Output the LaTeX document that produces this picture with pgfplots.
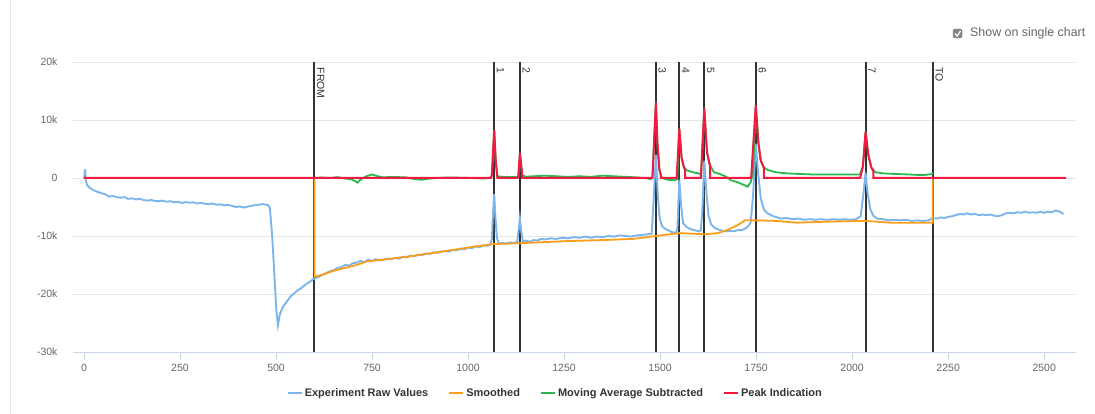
\documentclass[border=0pt]{standalone}
\usepackage{pgfplots}
\pgfplotsset{compat=1.18}
\usepackage{fontspec}
\setmainfont{Liberation Sans}
\definecolor{rawc}{HTML}{7CB5EC}
\definecolor{smoc}{HTML}{FA9E1B}
\definecolor{mavc}{HTML}{27B852}
\definecolor{peakc}{HTML}{F21B3F}
\definecolor{gridc}{HTML}{E6E6E6}
\definecolor{axc}{HTML}{CCD6EB}
\definecolor{labc}{HTML}{666666}
\definecolor{vlc}{HTML}{333333}
\begin{document}
\begin{tikzpicture}[x=1pt,y=1pt]
\useasboundingbox (0,0) rectangle (1095,414);
\draw[color=gridc, line width=0.8pt] (10,0) -- (10,414);
% checkbox
\filldraw[fill=labc!80, draw=labc!80, rounded corners=1.5pt] (953,376) rectangle (962,385);
\draw[white, line width=1.2pt] (955,380.5) -- (957.2,378) -- (960.5,383);
\node[anchor=west, font=\fontsize{12.4}{14}\selectfont, text=labc, inner sep=0pt] at (970,381) {Show on single chart};
\begin{axis}[
  at={(73pt,62pt)}, anchor=south west,
  scale only axis, width=1002.7pt, height=290pt,
  xmin=-28.6, xmax=2582, ymin=-30000, ymax=20000,
  scaled y ticks=false, scaled x ticks=false,
  axis x line*=bottom, axis y line*=left,
  x axis line style={color=axc, line width=0.8pt, -},
  y axis line style={draw=none},
  ytick={-30000,-20000,-10000,0,10000,20000},
  yticklabels={-30k,-20k,-10k,0,10k,20k},
  xtick={0,250,...,2500},
  xticklabels={0,250,500,750,1000,1250,1500,1750,2000,2250,2500},
  /pgf/number format/assume math mode=true,
  ymajorgrids, grid style={color=gridc, line width=0.8pt},
  tick align=outside, major tick length=8pt,
  xtick style={color=axc, line width=0.8pt},
  ytick style={draw=none},
  ticklabel style={font=\fontsize{10.5}{12}\selectfont, text=labc},
  xticklabel style={yshift=-1pt},
  yticklabel style={xshift=-4pt},
  clip=false,
  legend style={at={(0.481,-0.1414)}, anchor=center, draw=none, fill=none,
    font=\fontsize{11}{13}\bfseries\selectfont, text=vlc,
    /tikz/every even column/.append style={column sep=18pt}},
  legend columns=4,
  legend image code/.code={\draw[line width=2pt] (0pt,0pt) -- (14pt,0pt);},
]
% vertical plot lines
\foreach \v in {600,1068,1135,1489,1550,1615,1749,2035,2210} {
  \edef\tmp{\noexpand\addplot[forget plot, vlc, line width=1.9pt] coordinates {(\v,-30000) (\v,20000)};}
  \tmp
}
\addplot[rawc, line width=1.9pt] coordinates {
(0,0) (3,1500) (5,-500) (8,-1200) (15,-1700) (25,-2100) (35,-2400) (45,-2600) (55,-2800) (65,-3200) (75,-3100) (85,-3300) (95,-3400) (105,-3300) (115,-3600) (125,-3500) (135,-3700) (145,-3600) (155,-3800) (165,-3900) (175,-3800) (185,-3950) (195,-4000) (205,-3900) (215,-4100) (225,-4000) (235,-4200) (245,-4100) (255,-4300) (265,-4150) (275,-4250) (285,-4200) (295,-4400) (305,-4300) (315,-4450) (325,-4500) (335,-4400) (345,-4600) (355,-4550) (365,-4700) (375,-4650) (385,-4800) (395,-5000) (405,-4900) (415,-5100) (425,-4950) (435,-4800) (445,-4700) (455,-4600) (465,-4500) (475,-4600) (480,-4700) (484,-5200) (490,-10000) (496,-17000) (501,-23000) (505,-25400) (510,-23500) (518,-22200) (528,-21300) (540,-20300) (552,-19600) (565,-19000) (578,-18300) (590,-17800) (600,-17300)
(610,-17100) (620,-16700) (630,-16400) (640,-16100) (650,-15900) (660,-15500) (670,-15400) (680,-15000) (690,-15100) (700,-14700) (710,-14600) (720,-14300) (730,-14500) (740,-14100) (750,-14300) (760,-14000) (770,-14200) (780,-14100) (790,-13900) (800,-14000) (810,-13800) (820,-13900) (830,-13600) (840,-13700) (850,-13400) (860,-13500) (870,-13200) (880,-13300) (890,-13000) (900,-13100) (910,-12800) (920,-12900) (930,-12700) (940,-12600) (950,-12700) (960,-12400) (970,-12500) (980,-12200) (990,-12300) (1000,-12000) (1010,-12100) (1020,-11800) (1030,-11900) (1040,-11600) (1050,-11700) (1058,-11500)
(1062,-10500) (1065,-6000) (1068,-2800) (1071,-6500) (1075,-10300) (1080,-11300) (1090,-11200) (1100,-11300) (1110,-11100) (1120,-11200) (1128,-11000) (1132,-8800) (1135,-6900) (1139,-9500) (1143,-10900) (1150,-10800) (1160,-11000) (1170,-10700) (1180,-10800) (1190,-10500) (1200,-10600) (1215,-10400) (1230,-10500) (1245,-10300) (1260,-10400) (1275,-10200) (1290,-10300) (1305,-10100) (1320,-10300) (1335,-10100) (1350,-10200) (1365,-10000) (1380,-10100) (1395,-9900) (1410,-10000) (1425,-10100) (1440,-9900) (1455,-9800) (1470,-9700) (1478,-9600)
(1483,-4000) (1489,4000) (1494,-3000) (1499,-7000) (1505,-8300) (1512,-8700) (1520,-9000) (1530,-9300) (1540,-9500) (1545,-8800) (1550,-300) (1555,-5000) (1560,-7800) (1568,-8400) (1578,-8800) (1590,-9000) (1600,-9200) (1606,-9000) (1610,-5500) (1615,3000) (1620,-2000) (1626,-6500) (1633,-8000) (1642,-8600) (1652,-8900) (1662,-9100) (1672,-9200) (1682,-9100) (1692,-9200) (1702,-9000) (1712,-9000) (1722,-8700) (1730,-8300) (1736,-7600) (1742,-3000) (1749,5900) (1755,1000) (1762,-3500) (1770,-5400) (1778,-6000) (1786,-6300) (1795,-6600) (1805,-6800) (1815,-7000) (1830,-6900) (1845,-7100) (1860,-7000) (1875,-7200) (1890,-7100) (1905,-7200) (1920,-7100) (1935,-7200) (1950,-7100) (1965,-7200) (1980,-7100) (1995,-7200) (2010,-7100) (2022,-6600) (2029,-3000) (2035,900) (2040,-2500) (2047,-5300) (2055,-6500) (2065,-7000) (2080,-7100) (2095,-7300) (2110,-7200) (2125,-7300) (2140,-7200) (2155,-7400) (2170,-7300) (2185,-7400) (2200,-7300) (2210,-6900)
(2220,-7000) (2230,-6800) (2240,-6900) (2250,-6700) (2260,-6600) (2270,-6400) (2280,-6200) (2290,-6300) (2300,-6100) (2310,-6300) (2320,-6200) (2330,-6400) (2340,-6300) (2350,-6400) (2360,-6300) (2370,-6500) (2380,-6600) (2390,-6400) (2400,-6100) (2410,-6000) (2420,-6100) (2430,-5900) (2440,-6000) (2450,-5800) (2460,-6000) (2470,-5900) (2480,-6000) (2490,-5800) (2500,-6000) (2510,-5800) (2520,-5900) (2530,-5600) (2540,-5800) (2550,-6200)
};
\addlegendentry{Experiment Raw Values}
\addplot[smoc, line width=1.8pt] coordinates {
(0,0) (600,0) (600,-17000) (620,-16700) (650,-16000) (680,-15500) (710,-15000) (735,-14400) (800,-13900) (850,-13500) (900,-13000) (950,-12500) (1000,-12000) (1065,-11400) (1150,-11200) (1250,-10900) (1350,-10700) (1430,-10500) (1489,-10000) (1550,-9500) (1617,-9700) (1650,-9500) (1674,-9000) (1700,-8200) (1721,-7300) (1750,-7300) (1800,-7400) (1856,-7700) (1950,-7500) (2035,-7400) (2099,-7700) (2210,-7700) (2210,0) (2550,0)
};
\addlegendentry{Smoothed}
\addplot[mavc, line width=1.8pt] coordinates {
(600,0) (620,100) (640,0) (660,150) (680,-100) (695,-200) (705,-500) (712,-800) (720,-300) (735,300) (750,600) (765,300) (780,100) (800,200) (820,150) (840,100) (860,-200) (880,-300) (900,-100) (920,0) (950,100) (980,50) (1010,0) (1040,-100) (1058,0) (1062,500) (1068,8300) (1072,3000) (1076,300) (1090,200) (1110,150) (1128,200) (1131,300) (1135,4300) (1141,500) (1150,200) (1170,300) (1200,400) (1230,300) (1260,200) (1290,300) (1320,200) (1350,400) (1380,300) (1410,200) (1440,100) (1460,0) (1475,-200) (1480,0) (1489,13000) (1493,6000) (1498,1500) (1505,0) (1520,-300) (1540,-400) (1545,-100) (1550,8500) (1556,3500) (1562,1800) (1570,1300) (1585,1000) (1600,800) (1607,600) (1615,12000) (1622,4500) (1630,2200) (1640,1000) (1655,700) (1670,300) (1685,-400) (1700,-700) (1715,-1100) (1728,-1500) (1736,-700) (1742,1000) (1749,12500) (1756,6000) (1762,3000) (1770,1800) (1780,1400) (1800,1000) (1830,800) (1860,700) (1900,600) (1950,600) (2000,600) (2020,600) (2028,2000) (2035,8000) (2042,4000) (2050,1800) (2060,1000) (2080,800) (2110,700) (2150,600) (2180,500) (2200,600) (2208,700) (2210,900)
};
\addlegendentry{Moving Average Subtracted}
\addplot[peakc, line width=2pt] coordinates {
(0,0) (1060,0) (1062,500) (1068,8300) (1072,3000) (1076,300) (1076,0)
(1129,0) (1131,300) (1135,4300) (1141,500) (1141,0)
(1480,0) (1489,13000) (1493,6000) (1498,1500) (1502,400) (1502,0)
(1543,0) (1550,8500) (1556,3500) (1562,1800) (1565,1600) (1565,0)
(1606,0) (1615,12000) (1622,4500) (1628,2500) (1630,2200) (1630,0)
(1737,0) (1749,12500) (1756,6000) (1762,3000) (1770,1800) (1770,0)
(2021,0) (2028,2000) (2035,8000) (2042,4000) (2050,1800) (2055,1200) (2055,0)
(2557,0)
};
\addlegendentry{Peak Indication}
% plot line labels
\foreach \v/\t in {600/FROM,1068/1,1135/2,1489/3,1550/4,1615/5,1749/6,2035/7,2210/TO} {
  \edef\tmp{\noexpand\node[rotate=-90, anchor=south west, inner sep=0.5pt, font=\noexpand\fontsize{10.5}{12}\noexpand\selectfont, text=vlc] at ([xshift=2pt,yshift=-5pt]axis cs:\v,20000) {\t};}
  \tmp
}
\end{axis}
\end{tikzpicture}
\end{document}
